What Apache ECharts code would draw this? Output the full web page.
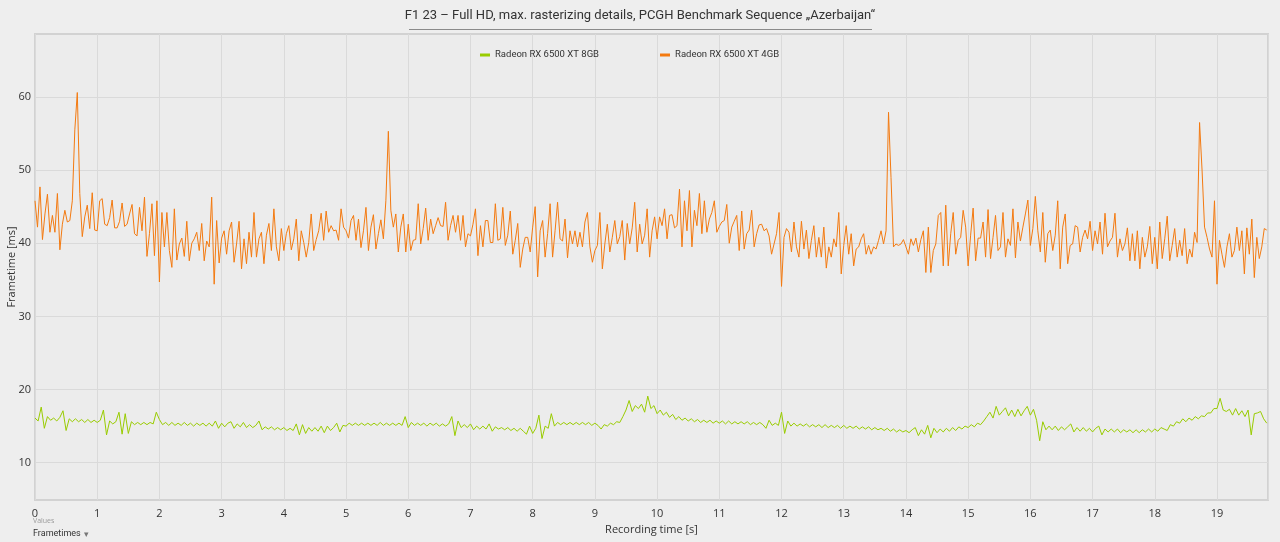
<!DOCTYPE html>
<html>
<head>
<meta charset="utf-8">
<script src="https://cdn.jsdelivr.net/npm/echarts@6/dist/echarts.min.js"></script>
<style>
  html, body { margin: 0; padding: 0; background: #eeeeee; }
  #chart { width: 1280px; height: 542px; }
</style>
</head>
<body>
<div id="chart"></div>
<script>
// Serien-Namen und Achsen-Ticks
const seriesNames = ['Radeon RX 6500 XT 8GB', 'Radeon RX 6500 XT 4GB'];
const yTicks = [10, 20, 30, 40, 50, 60];
const xMax = 19.82;

// Frametimes Radeon RX 6500 XT 4GB (ms), ein Wert alle 0,04 s
const orangeStep = 0.04;
const orangeFrametimes = [
  45.8, 42.2, 47.7, 40.5, 44.0, 46.7, 41.5, 43.8, 41.5, 46.8, 39.1, 42.6, 44.5, 42.9, 43.1, 45.8, 55.5, 60.6, 46.8, 40.9, 43.6, 45.2, 42.0, 46.9, 41.8,
  41.7, 45.8, 46.1, 42.6, 42.4, 43.5, 45.9, 42.1, 42.1, 43.0, 45.5, 42.3, 42.6, 44.0, 45.3, 41.3, 41.0, 44.9, 41.7, 46.3, 38.2, 41.3, 45.4, 38.3, 45.8,
  34.7, 44.2, 39.5, 44.2, 39.0, 36.7, 44.7, 37.7, 39.9, 40.7, 38.2, 43.0, 37.6, 40.0, 40.6, 41.5, 39.0, 42.7, 37.6, 40.3, 39.5, 46.3, 34.4, 43.1, 37.3,
  40.7, 41.7, 38.5, 41.7, 42.9, 37.4, 39.9, 43.0, 36.5, 40.6, 37.2, 41.5, 38.1, 44.2, 38.1, 40.6, 41.5, 37.2, 41.1, 42.7, 39.0, 44.7, 39.5, 37.6, 42.0,
  39.0, 41.3, 42.4, 39.1, 40.6, 43.3, 37.6, 41.7, 40.1, 38.1, 40.1, 44.0, 39.0, 40.5, 41.7, 44.1, 40.4, 44.4, 41.5, 42.4, 41.7, 41.8, 40.4, 44.7, 42.2,
  41.7, 40.7, 43.1, 43.8, 40.4, 43.3, 39.4, 41.7, 44.9, 39.0, 42.2, 43.9, 39.2, 41.3, 43.2, 40.6, 45.8, 55.3, 44.5, 42.2, 44.0, 38.8, 42.2, 44.0, 38.8,
  42.6, 39.0, 40.4, 40.5, 45.4, 39.9, 42.0, 44.8, 40.4, 43.3, 41.3, 42.4, 43.5, 42.4, 42.3, 45.6, 40.4, 42.4, 43.8, 41.5, 43.8, 40.4, 43.8, 39.5, 41.3,
  41.0, 42.6, 44.7, 38.3, 42.4, 39.5, 43.1, 43.1, 40.1, 40.1, 45.4, 40.4, 40.6, 44.9, 39.7, 41.1, 44.4, 38.5, 40.4, 42.7, 36.7, 39.2, 40.8, 40.8, 38.8,
  42.2, 45.0, 35.4, 41.7, 43.1, 38.1, 41.3, 45.4, 38.1, 41.7, 45.6, 40.6, 40.3, 43.3, 38.0, 41.7, 39.9, 41.7, 39.5, 41.5, 39.5, 42.9, 44.2, 39.5, 37.4,
  39.0, 39.7, 44.2, 36.5, 39.9, 42.6, 38.8, 40.8, 43.1, 39.9, 40.9, 43.1, 37.7, 42.7, 39.9, 42.1, 45.6, 38.8, 42.6, 39.9, 41.1, 44.7, 38.1, 41.7, 43.6,
  40.6, 43.6, 42.4, 44.7, 40.6, 43.8, 43.9, 42.1, 42.4, 47.4, 39.5, 45.8, 41.7, 47.2, 39.5, 44.5, 42.4, 46.8, 41.3, 45.8, 41.5, 43.3, 44.2, 45.8, 41.5,
  42.3, 42.9, 43.1, 45.3, 40.0, 42.2, 43.0, 43.8, 39.0, 44.4, 39.2, 41.3, 41.8, 44.5, 39.5, 41.3, 42.5, 42.6, 41.7, 42.0, 41.0, 38.5, 39.9, 41.3, 44.2,
  34.1, 40.8, 42.0, 41.5, 38.8, 42.9, 39.5, 38.1, 43.0, 39.2, 41.8, 37.9, 40.4, 42.4, 38.1, 40.8, 38.1, 42.2, 36.6, 39.5, 38.1, 40.6, 39.5, 44.2, 35.8,
  39.7, 42.4, 38.5, 41.3, 36.9, 39.2, 39.5, 40.6, 41.3, 38.5, 39.7, 38.5, 39.5, 39.2, 40.4, 41.7, 39.9, 41.7, 57.9, 49.0, 39.5, 39.9, 39.7, 39.9, 40.5,
  39.5, 38.5, 40.6, 39.7, 40.7, 38.8, 40.5, 41.7, 36.0, 42.2, 36.0, 39.0, 39.9, 43.8, 44.2, 36.9, 45.2, 36.9, 41.3, 44.2, 38.5, 40.4, 40.8, 44.5, 42.2,
  36.9, 41.1, 44.8, 37.6, 40.7, 40.7, 42.9, 38.1, 44.6, 37.9, 40.8, 43.8, 39.0, 39.5, 44.2, 38.1, 40.6, 39.7, 44.7, 38.0, 42.9, 40.3, 42.2, 44.0, 45.9,
  39.7, 42.0, 46.4, 41.7, 38.8, 44.2, 37.4, 41.3, 41.8, 39.0, 41.1, 45.8, 36.5, 42.2, 44.0, 37.2, 39.7, 39.9, 42.4, 42.2, 38.8, 40.8, 41.8, 40.6, 43.0,
  39.0, 41.7, 39.9, 42.9, 38.5, 44.1, 39.5, 40.3, 40.8, 44.1, 38.1, 40.6, 39.0, 39.9, 42.1, 37.6, 41.3, 37.6, 41.7, 36.5, 40.8, 38.1, 39.5, 42.3, 37.2,
  40.8, 36.5, 42.9, 37.9, 40.6, 43.7, 37.6, 39.7, 42.0, 38.1, 40.4, 38.3, 42.0, 37.2, 39.2, 38.1, 41.5, 40.1, 56.5, 50.0, 42.2, 40.8, 39.2, 38.1, 45.8,
  34.4, 40.4, 38.5, 36.7, 39.5, 41.3, 38.1, 39.0, 42.2, 39.0, 41.7, 35.8, 42.1, 38.5, 43.3, 35.3, 40.8, 37.9, 39.5, 42.0, 41.8
];

// Frametimes Radeon RX 6500 XT 8GB (ms), ein Wert alle 0,05 s
const greenStep = 0.05;
const greenFrametimes = [
  16.1, 15.7, 17.6, 14.7, 16.3, 15.8, 16.1, 15.7, 16.2, 17.1, 14.4, 16.0, 15.6, 16.0, 15.6, 15.9, 15.5, 15.9, 15.5, 15.8,
  15.5, 15.8, 17.2, 13.8, 15.7, 15.3, 15.6, 16.9, 13.9, 16.7, 14.0, 15.6, 15.2, 15.5, 15.2, 15.5, 15.2, 15.5, 15.3, 16.9,
  15.9, 15.2, 15.5, 15.1, 15.5, 15.1, 15.4, 15.1, 15.5, 15.1, 15.4, 15.0, 15.4, 15.1, 15.4, 15.0, 15.4, 15.0, 15.7, 14.7,
  15.4, 14.9, 15.4, 15.6, 14.7, 15.3, 14.9, 15.5, 14.8, 15.2, 14.8, 15.1, 15.7, 14.5, 14.9, 14.6, 14.9, 14.5, 14.8, 14.5,
  14.8, 14.4, 14.7, 14.4, 15.3, 13.8, 15.2, 14.0, 14.8, 14.3, 14.8, 14.3, 15.0, 14.1, 15.0, 14.4, 14.8, 15.4, 14.2, 15.1,
  15.0, 15.4, 15.1, 15.4, 15.1, 15.4, 15.1, 15.4, 15.1, 15.4, 15.1, 15.5, 15.1, 15.4, 15.1, 15.4, 15.1, 15.4, 15.1, 16.3,
  14.8, 15.5, 15.1, 15.4, 15.1, 15.4, 15.0, 15.4, 15.1, 15.4, 15.0, 15.3, 15.0, 15.3, 16.3, 13.7, 15.7, 14.8, 15.2, 14.8,
  15.3, 14.5, 15.0, 14.6, 15.0, 14.6, 15.3, 14.3, 14.9, 14.6, 14.8, 14.5, 14.8, 14.4, 14.7, 14.3, 14.7, 14.3, 13.9, 15.0,
  14.0, 14.7, 16.5, 13.3, 15.0, 14.7, 16.7, 15.0, 15.5, 15.2, 15.5, 15.2, 15.5, 15.2, 15.5, 15.2, 15.5, 15.2, 15.5, 15.1,
  15.4, 15.1, 14.6, 15.2, 15.0, 15.4, 15.2, 15.6, 15.5, 16.3, 17.2, 18.5, 17.0, 17.8, 17.4, 18.0, 16.9, 19.1, 17.4, 17.8,
  16.7, 17.2, 16.5, 16.9, 16.2, 16.6, 15.9, 16.3, 15.8, 16.1, 15.7, 16.0, 15.6, 15.9, 15.5, 15.8, 15.5, 15.8, 15.4, 15.7,
  15.4, 15.7, 15.3, 15.7, 15.3, 15.6, 15.3, 15.6, 15.3, 15.6, 15.2, 15.5, 15.2, 15.5, 15.2, 14.7, 15.8, 15.1, 15.4, 15.1,
  16.9, 14.0, 15.7, 15.0, 15.4, 15.0, 15.3, 15.0, 15.3, 14.9, 15.2, 14.9, 15.2, 14.8, 15.2, 14.8, 15.1, 14.8, 15.1, 14.7,
  15.1, 14.7, 15.0, 14.7, 15.0, 14.6, 14.9, 14.6, 14.9, 14.5, 14.8, 14.5, 14.7, 14.4, 14.7, 14.3, 14.6, 14.2, 14.5, 14.2,
  14.4, 14.1, 14.5, 14.8, 13.7, 14.5, 13.9, 15.1, 13.4, 14.7, 14.1, 14.6, 14.2, 14.7, 14.3, 14.8, 14.4, 14.9, 14.6, 15.0,
  14.8, 15.2, 14.9, 15.4, 15.2, 15.7, 16.3, 16.9, 16.1, 17.7, 16.5, 17.0, 17.5, 16.4, 17.2, 16.3, 17.3, 16.4, 17.1, 17.7,
  16.5, 17.3, 15.8, 13.0, 15.6, 14.5, 15.0, 14.5, 15.0, 14.4, 14.9, 14.5, 14.9, 15.3, 14.2, 14.8, 14.3, 14.8, 14.3, 14.7,
  14.2, 14.7, 15.0, 13.8, 14.6, 14.2, 14.6, 14.2, 14.6, 14.1, 14.5, 14.2, 14.5, 14.1, 14.5, 14.1, 14.5, 14.2, 14.6, 14.2,
  14.6, 14.3, 14.8, 14.6, 14.4, 15.2, 15.0, 15.6, 15.4, 16.0, 15.6, 16.1, 15.8, 16.3, 16.0, 16.4, 16.3, 16.8, 16.8, 17.4,
  17.4, 18.8, 17.2, 17.0, 17.3, 16.5, 17.4, 16.5, 17.1, 16.3, 17.2, 13.8, 16.7, 16.8, 17.0, 16.0, 15.4
];

// Zeitstempel aus dem Index ableiten
function zuPunkten(werte, schritt) {
  return werte.map((v, i) => [Math.round(i * schritt * 1000) / 1000, v]);
}

const achsenText = { color: '#333', fontSize: 11, fontFamily: 'Open Sans' };
const chart = echarts.init(document.getElementById('chart'));

chart.setOption({
  backgroundColor: '#eeeeee',
  animation: false,
  title: {
    text: 'F1 23 \u2013 Full HD, max. rasterizing details, PCGH Benchmark Sequence \u201eAzerbaijan\u201c',
    left: 'center',
    top: 4,
    textStyle: { color: '#333', fontSize: 13, fontWeight: 'normal', fontFamily: 'Roboto' }
  },
  legend: {
    data: seriesNames,
    left: 475,
    top: 45,
    itemGap: 61,
    icon: 'rect',
    itemWidth: 10,
    itemHeight: 3,
    textStyle: { color: '#333', fontSize: 9.5, fontFamily: 'Roboto' }
  },
  grid: {
    left: 35, right: 12, top: 34, bottom: 42,
    outerBoundsMode: 'none',
    containLabel: false,
    show: true,
    backgroundColor: '#ececec',
    borderColor: '#d2d2d2',
    borderWidth: 2
  },
  xAxis: {
    type: 'value',
    min: 0,
    max: xMax,
    interval: 1,
    name: 'Recording time [s]',
    nameLocation: 'middle',
    nameGap: 23,
    nameTextStyle: achsenText,
    axisLine: { show: false },
    axisTick: { show: false },
    axisLabel: Object.assign({ margin: 8, showMaxLabel: false }, achsenText),
    splitLine: { lineStyle: { color: '#dadada', width: 1 } }
  },
  yAxis: {
    type: 'value',
    min: 4.9,
    max: 68.6,
    name: 'Frametime [ms]',
    nameLocation: 'middle',
    nameGap: 18,
    nameMoveOverlap: false,
    nameTextStyle: achsenText,
    axisLine: { show: false },
    axisTick: { show: false, customValues: yTicks },
    axisLabel: Object.assign({ margin: 4, customValues: yTicks }, achsenText),
    splitLine: { lineStyle: { color: '#dadada', width: 1 } }
  },
  graphic: [
    { type: 'line', shape: { x1: 409, y1: 29.5, x2: 872, y2: 29.5 }, style: { stroke: '#8a8a8a', lineWidth: 1 } },
    { type: 'text', left: 33, top: 517, style: { text: 'Values', fill: '#9a9a9a', fontSize: 7, fontFamily: 'Open Sans' } },
    { type: 'text', left: 33, top: 529, style: { text: 'Frametimes', fill: '#333', fontSize: 9, fontFamily: 'Roboto' } },
    { type: 'text', left: 84, top: 530, style: { text: '\u25be', fill: '#777', fontSize: 9, fontFamily: 'DejaVu Sans' } }
  ],
  series: [
    {
      name: seriesNames[0],
      type: 'line',
      showSymbol: false,
      color: '#99cc00',
      lineStyle: { width: 1 },
      data: zuPunkten(greenFrametimes, greenStep)
    },
    {
      name: seriesNames[1],
      type: 'line',
      showSymbol: false,
      color: '#f47a10',
      lineStyle: { width: 1 },
      data: zuPunkten(orangeFrametimes, orangeStep)
    }
  ]
});
</script>
</body>
</html>
